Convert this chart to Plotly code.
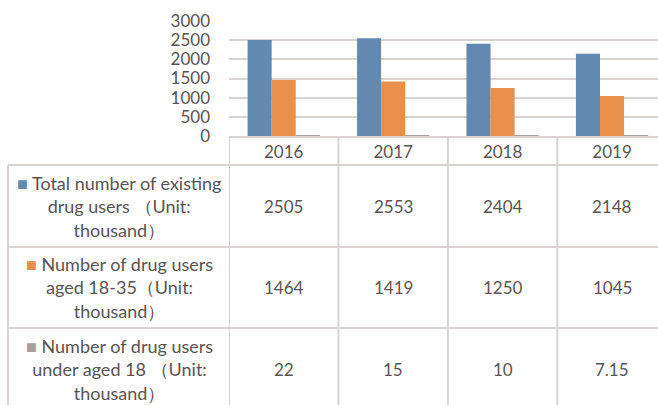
import plotly.graph_objects as go

years = ["2016", "2017", "2018", "2019"]
total_users = [2505, 2553, 2404, 2148]
aged_18_35 = [1464, 1419, 1250, 1045]
under_18 = [22, 15, 10, 7.15]
under_18_text = ["22", "15", "10", "7.15"]
y_ticks = [0, 500, 1000, 1500, 2000, 2500, 3000]

series_names = [
    "Total number of existing<br>drug users （Unit:<br>thousand）",
    "Number of drug users<br>aged 18-35（Unit:<br>thousand）",
    "Number of drug users<br>under aged 18 （Unit:<br>thousand）",
]
COLORS = ["#6389B1", "#E8904A", "#A6A09F"]
TEXT = "#595454"
GRID = "#D9D4D2"
FONT = "Lato, 'Noto Sans', sans-serif"

W, H = 658, 405
L = 229  # left margin, the label column of the table sits in it
PW = W - L

def px(p):
    # pixel column -> paper x (paper = plot area)
    return (p - L) / PW

def py(p):
    # pixel row -> paper y
    return 1 - p / H

fig = go.Figure()
for vals, c in zip([total_users, aged_18_35, under_18], COLORS):
    fig.add_trace(go.Bar(x=years, y=vals, marker=dict(color=c, line=dict(width=0)),
                         showlegend=False, hoverinfo="skip"))

# table rows: top of each data row (pixels)
row_edges = [165, 247, 328, 410]
table_vals = [[str(v) for v in total_users], [str(v) for v in aged_18_35], under_18_text]

shapes = []
for e in row_edges[:-1]:
    shapes.append(dict(type="line", xref="paper", yref="paper", x0=px(8), x1=1, y0=py(e), y1=py(e),
                       line=dict(color=GRID, width=2)))
shapes.append(dict(type="line", xref="paper", yref="paper", x0=px(8), x1=px(8), y0=py(165), y1=0,
                   line=dict(color=GRID, width=2)))
for b in [-0.5, 0.5, 1.5, 2.5]:
    shapes.append(dict(type="line", xref="x", yref="paper", x0=b, x1=b, y0=py(136), y1=0,
                       line=dict(color=GRID, width=2)))

annotations = []
for i, (name, c, vals) in enumerate(zip(series_names, COLORS, table_vals)):
    mid = (row_edges[i] + row_edges[i + 1]) / 2
    annotations.append(dict(
        xref="paper", yref="paper", x=px(119), y=py(mid), showarrow=False,
        text=f"<span style='color:{c}'>■</span> " + name, align="center",
        font=dict(family=FONT, size=18, color=TEXT), xanchor="center", yanchor="middle"))
    for j, v in enumerate(vals):
        # category axis: position by index
        annotations.append(dict(xref="x", yref="paper", x=j, y=py(mid), showarrow=False, text=v,
                                font=dict(family=FONT, size=17, color=TEXT),
                                xanchor="center", yanchor="middle"))

fig.update_layout(
    width=W, height=H, autosize=False,
    margin=dict(l=L, r=0, t=0, b=0, autoexpand=False),
    paper_bgcolor="white", plot_bgcolor="white",
    barmode="group", bargap=0.34, bargroupgap=0,
    font=dict(family=FONT, size=17, color=TEXT),
    xaxis=dict(type="category", range=[-0.5, 3.42], showline=True, linecolor=GRID, linewidth=2,
               ticks="", tickfont=dict(size=17, color=TEXT), showgrid=False, automargin=False),
    yaxis=dict(domain=[py(136), py(21)], range=[0, 3000], tickvals=y_ticks,
               showgrid=True, gridcolor=GRID, gridwidth=2, zeroline=False,
               showline=False, ticks="", ticklabelstandoff=18, automargin=False,
               tickfont=dict(size=17, color=TEXT)),
    shapes=shapes,
    annotations=annotations,
)

fig.write_html("out.html", config={"displayModeBar": False},
               post_script="document.body.style.margin='0';document.body.style.overflow='hidden';")
